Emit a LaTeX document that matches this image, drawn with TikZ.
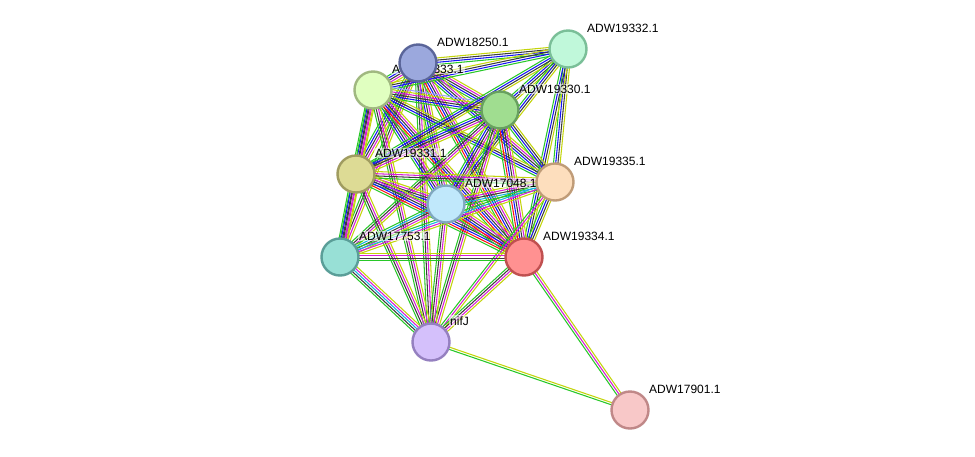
\documentclass[tikz,border=0pt]{standalone}
\usepackage{fontspec}
\setmainfont{Liberation Sans}
\usetikzlibrary{calc,backgrounds}
%% evidence colours
\definecolor{sgreen}{RGB}{40,200,40}
\definecolor{sred}{RGB}{250,20,20}
\definecolor{sblue}{RGB}{20,20,245}
\definecolor{sblack}{RGB}{60,60,60}
\definecolor{smag}{RGB}{215,30,215}
\definecolor{scyan}{RGB}{20,180,225}
\definecolor{syel}{RGB}{195,212,10}
\definecolor{shomo}{RGB}{160,160,250}
%% protein colours (fill / rim)
\definecolor{f18250}{RGB}{155,168,221}\definecolor{d18250}{RGB}{90,101,153}
\definecolor{f19333}{RGB}{224,255,192}\definecolor{d19333}{RGB}{160,184,128}
\definecolor{f19332}{RGB}{192,248,218}\definecolor{d19332}{RGB}{122,191,152}
\definecolor{f19330}{RGB}{160,221,144}\definecolor{d19330}{RGB}{104,160,96}
\definecolor{f19331}{RGB}{221,219,149}\definecolor{d19331}{RGB}{160,156,96}
\definecolor{f17048}{RGB}{192,232,251}\definecolor{d17048}{RGB}{128,168,192}
\definecolor{f19335}{RGB}{253,222,189}\definecolor{d19335}{RGB}{192,156,120}
\definecolor{f17753}{RGB}{152,224,214}\definecolor{d17753}{RGB}{90,158,152}
\definecolor{f19334}{RGB}{255,145,145}\definecolor{d19334}{RGB}{192,80,80}
\definecolor{fNifJ}{RGB}{212,192,251}\definecolor{dNifJ}{RGB}{149,128,192}
\definecolor{f17901}{RGB}{248,200,200}\definecolor{d17901}{RGB}{192,136,136}
\tikzset{
  prot/.style={circle, fill=f#1, draw=d#1, line width=2.4pt,
    minimum size=37pt, inner sep=0pt},
  plabel/.style={anchor=base west, inner sep=1pt, fill=white,
    fill opacity=0.55, text opacity=1,
    font=\fontsize{12}{14}\selectfont, text=black},
  link/.style={line width=1.05pt},
}
%% bundle of parallel evidence lines between two proteins
\newcommand{\strlink}[3]{%
  \foreach \linkcol [count=\linkidx] in {#3}{\xdef\linknum{\linkidx}}%
  \foreach \linkcol [count=\linkidx] in {#3}{%
    \pgfmathsetmacro\off{(\linkidx-(\linknum+1)/2)*2.2}%
    \draw[link, \linkcol] ($(#1)!\off pt!90:(#2)$) -- ($(#2)!\off pt!-90:(#1)$);
  }%
}

\begin{document}
\begin{tikzpicture}[x=1pt, y=-1pt]
\begin{scope}[on background layer]
  \fill[white] (0,0) rectangle (975,456);
\end{scope}
\useasboundingbox (0,0) rectangle (975,456);

%% Proteins
\node[prot=18250] (p18250) at (418, 63) {};
\node[prot=19333] (p19333) at (373, 90) {};
\node[prot=19332] (p19332) at (568, 49) {};
\node[prot=19330] (p19330) at (500,110) {};
\node[prot=19331] (p19331) at (356,174) {};
\node[prot=17048] (p17048) at (446,204) {};
\node[prot=19335] (p19335) at (555,182) {};
\node[prot=17753] (p17753) at (340,257) {};
\node[prot=19334] (p19334) at (524,257) {};
\node[prot=NifJ]  (pNifJ)  at (431,342) {};
\node[prot=17901] (p17901) at (630,410) {};

\begin{scope}[on background layer]
%% Evidence links
\strlink{p18250}{p19333}{sgreen,sblue,sblack,smag,syel}
\strlink{p18250}{p19332}{sgreen,sblue,sblack,syel}
\strlink{p18250}{p19330}{sgreen,sblue,sblack,smag,syel}
\strlink{p18250}{p19331}{sgreen,sblue,sblack,smag,syel}
\strlink{p18250}{p17048}{sgreen,sblue,sblack,smag,syel}
\strlink{p18250}{p19335}{sgreen,sblue,sblack,smag,syel}
\strlink{p18250}{p17753}{sgreen,sblack,smag,syel}
\strlink{p18250}{p19334}{sgreen,sred,sblue,sblack,smag,syel}
\strlink{p18250}{pNifJ}{sgreen,sblack,smag,syel}
\strlink{p19333}{p19332}{sgreen,sblue,sblack,syel}
\strlink{p19333}{p19330}{sgreen,sblue,sblack,smag,syel,shomo}
\strlink{p19333}{p19331}{sgreen,sblue,sblack,smag,syel}
\strlink{p19333}{p17048}{sgreen,sblue,sblack,smag,syel}
\strlink{p19333}{p19335}{sgreen,sblue,sblack,syel}
\strlink{p19333}{p17753}{sgreen,sblack,smag,syel}
\strlink{p19333}{p19334}{sgreen,sred,sblue,sblack,smag,syel}
\strlink{p19333}{pNifJ}{sgreen,sblack,smag,syel}
\strlink{p19332}{p19330}{sgreen,sblue,sblack,syel}
\strlink{p19332}{p19331}{sgreen,sblue,sblack,syel}
\strlink{p19332}{p17048}{sgreen,sblue,sblack,syel}
\strlink{p19332}{p19335}{sgreen,sblue,sblack,syel}
\strlink{p19332}{p19334}{sgreen,sblue,sblack,syel}
\strlink{p19330}{p19331}{sgreen,sblue,sblack,smag,syel}
\strlink{p19330}{p17048}{sgreen,sblue,sblack,smag,syel}
\strlink{p19330}{p19335}{sgreen,sblue,sblack,syel}
\strlink{p19330}{p17753}{sgreen,sblack,smag,syel}
\strlink{p19330}{p19334}{sgreen,sred,sblue,sblack,smag,syel}
\strlink{p19330}{pNifJ}{sgreen,sblack,smag,syel}
\strlink{p19331}{p17048}{sgreen,sblue,sblack,smag,syel}
\strlink{p19331}{p19335}{sgreen,sblack,smag,syel}
\strlink{p19331}{p17753}{sgreen,sblue,sblack,smag,syel}
\strlink{p19331}{p19334}{sgreen,sred,sblue,sblack,smag,syel}
\strlink{p19331}{pNifJ}{sgreen,sblack,smag,syel}
\strlink{p17048}{p19335}{sgreen,scyan,sblack,smag,syel}
\strlink{p17048}{p17753}{sgreen,scyan,sblack,smag,syel}
\strlink{p17048}{p19334}{sgreen,sred,sblue,sblack,smag,syel}
\strlink{p17048}{pNifJ}{sgreen,sblack,smag,syel}
\strlink{p19335}{p17753}{sgreen,scyan,smag,syel}
\strlink{p19335}{p19334}{sgreen,sblue,sblack,syel}
\strlink{p19335}{pNifJ}{sgreen,smag,syel}
\strlink{p17753}{p19334}{sgreen,sblack,smag,syel}
\strlink{p17753}{pNifJ}{sgreen,sblack,scyan,smag,syel}
\strlink{p19334}{pNifJ}{sgreen,sblack,smag,syel}
\strlink{p19334}{p17901}{sgreen,smag,syel}
\strlink{pNifJ}{p17901}{sgreen,syel}

%% Labels
\node[plabel] (l18250) at ($(p18250)+(18,-17)$) {ADW18250.1};
\node[plabel] (l19333) at ($(p19333)+(18,-17)$) {ADW19333.1};
\node[plabel] (l19332) at ($(p19332)+(18,-17)$) {ADW19332.1};
\node[plabel] (l19330) at ($(p19330)+(18,-17)$) {ADW19330.1};
\node[plabel] (l19331) at ($(p19331)+(18,-17)$) {ADW19331.1};
\node[plabel] (l17048) at ($(p17048)+(18,-17)$) {ADW17048.1};
\node[plabel] (l19335) at ($(p19335)+(18,-17)$) {ADW19335.1};
\node[plabel] (l17753) at ($(p17753)+(18,-17)$) {ADW17753.1};
\node[plabel] (l19334) at ($(p19334)+(18,-17)$) {ADW19334.1};
\node[plabel] (lNifJ)  at ($(pNifJ)+(18,-17)$)  {nifJ};
\node[plabel] (l17901) at ($(p17901)+(18,-17)$) {ADW17901.1};
\end{scope}

\end{tikzpicture}
\end{document}
